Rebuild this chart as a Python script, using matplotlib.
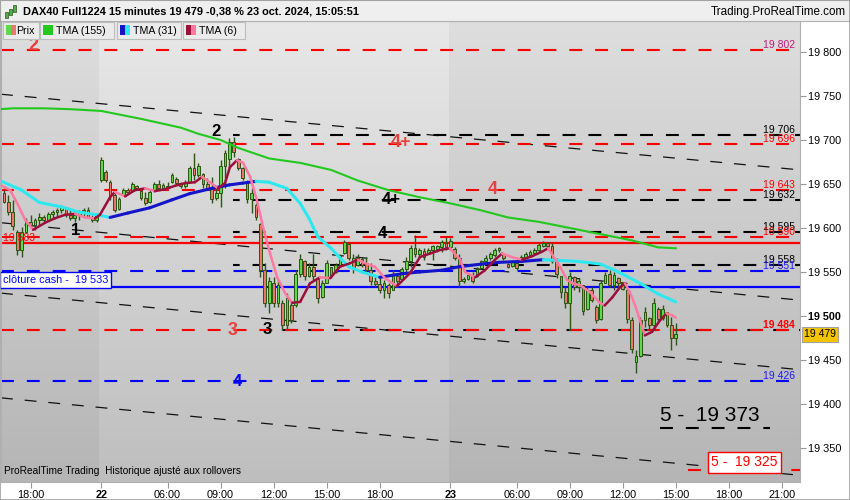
import numpy as np
import matplotlib
matplotlib.use("Agg")
import matplotlib.pyplot as plt
from matplotlib.patches import Rectangle
from matplotlib.collections import LineCollection
import matplotlib.transforms as mtransforms

plt.rcParams['font.family'] = ['Liberation Sans', 'DejaVu Sans']

# ---------------- data ----------------
opens = [19640, 19630, 19618, 19595, 19575, 19596, 19607, 19603, 19609, 19613,
         19609, 19616, 19618, 19621, 19624, 19615, 19611, 19615, 19618, 19621,
         19613, 19609, 19655, 19664, 19652, 19637, 19622, 19638, 19643, 19642,
         19648, 19642, 19634, 19630, 19643, 19650, 19645, 19648, 19652, 19656,
         19651, 19648, 19652, 19668, 19660, 19661, 19650, 19645, 19634, 19640,
         19670, 19678, 19698, 19678, 19668, 19652, 19633, 19626, 19604, 19552,
         19515, 19538, 19515, 19515, 19490, 19512, 19512, 19548, 19562, 19546,
         19556, 19542, 19522, 19538, 19556, 19550, 19558, 19572, 19582, 19566,
         19558, 19565, 19560, 19552, 19540, 19536, 19530, 19535, 19530, 19546,
         19542, 19553, 19563, 19577, 19570, 19574, 19572, 19575, 19576, 19578,
         19583, 19578, 19576, 19566, 19540, 19542, 19546, 19545, 19555, 19562,
         19566, 19569, 19575, 19570, 19559, 19557, 19560, 19562, 19567, 19569,
         19572, 19575, 19580, 19583, 19580, 19563, 19546, 19527, 19515, 19544,
         19533, 19535, 19508, 19530, 19510, 19497, 19538, 19548, 19535, 19543,
         19537, 19530, 19496, 19448, 19455, 19495, 19498, 19490, 19508, 19498,
         19504, 19490, 19475]
highs = [19643, 19637, 19632, 19598, 19601, 19611, 19615, 19611, 19617, 19615,
         19618, 19620, 19623, 19626, 19624, 19620, 19617, 19620, 19623, 19624,
         19615, 19617, 19681, 19666, 19654, 19640, 19635, 19645, 19646, 19652,
         19649, 19643, 19641, 19643, 19652, 19654, 19651, 19652, 19662, 19658,
         19652, 19654, 19671, 19685, 19674, 19662, 19657, 19658, 19646, 19677,
         19689, 19702, 19703, 19679, 19669, 19654, 19646, 19628, 19606, 19560,
         19544, 19544, 19541, 19518, 19526, 19515, 19552, 19571, 19564, 19560,
         19571, 19544, 19541, 19564, 19556, 19560, 19571, 19586, 19584, 19571,
         19571, 19567, 19567, 19560, 19544, 19544, 19541, 19537, 19552, 19549,
         19556, 19567, 19581, 19592, 19577, 19577, 19577, 19581, 19581, 19586,
         19590, 19589, 19578, 19571, 19544, 19549, 19550, 19556, 19564, 19569,
         19573, 19577, 19578, 19571, 19560, 19564, 19561, 19569, 19573, 19575,
         19577, 19583, 19585, 19584, 19583, 19566, 19546, 19533, 19550, 19546,
         19543, 19535, 19533, 19533, 19512, 19541, 19550, 19552, 19550, 19544,
         19538, 19532, 19499, 19461, 19499, 19510, 19499, 19520, 19510, 19512,
         19504, 19499, 19492]
lows = [19628, 19615, 19598, 19569, 19567, 19594, 19600, 19598, 19603, 19607,
        19609, 19611, 19612, 19617, 19612, 19609, 19607, 19609, 19612, 19611,
        19607, 19607, 19652, 19652, 19632, 19618, 19620, 19637, 19640, 19641,
        19643, 19632, 19626, 19628, 19641, 19643, 19643, 19645, 19651, 19649,
        19646, 19646, 19651, 19654, 19658, 19646, 19643, 19628, 19632, 19624,
        19646, 19669, 19681, 19666, 19654, 19628, 19617, 19609, 19544, 19510,
        19503, 19510, 19510, 19484, 19484, 19492, 19510, 19544, 19541, 19544,
        19541, 19515, 19521, 19537, 19543, 19549, 19556, 19571, 19564, 19549,
        19557, 19556, 19549, 19535, 19533, 19526, 19521, 19521, 19529, 19533,
        19541, 19550, 19556, 19567, 19566, 19564, 19571, 19564, 19573, 19573,
        19575, 19575, 19564, 19533, 19537, 19541, 19537, 19544, 19554, 19560,
        19564, 19567, 19573, 19564, 19554, 19556, 19552, 19561, 19566, 19567,
        19569, 19573, 19578, 19577, 19560, 19543, 19521, 19509, 19484, 19529,
        19527, 19501, 19507, 19516, 19492, 19495, 19537, 19533, 19529, 19533,
        19529, 19492, 19458, 19435, 19453, 19487, 19484, 19484, 19492, 19495,
        19487, 19461, 19467]
closes = [19630, 19618, 19602, 19575, 19596, 19607, 19603, 19609, 19613, 19609,
          19616, 19618, 19621, 19624, 19615, 19611, 19615, 19618, 19621, 19613,
          19609, 19615, 19677, 19655, 19637, 19621, 19633, 19643, 19641, 19650,
          19645, 19634, 19628, 19641, 19650, 19645, 19649, 19646, 19660, 19651,
          19648, 19652, 19668, 19660, 19670, 19650, 19645, 19633, 19640, 19670,
          19685, 19698, 19686, 19668, 19657, 19633, 19640, 19612, 19552, 19515,
          19540, 19515, 19535, 19490, 19520, 19495, 19548, 19565, 19545, 19556,
          19545, 19520, 19538, 19560, 19547, 19558, 19569, 19584, 19566, 19555,
          19566, 19558, 19552, 19540, 19536, 19530, 19537, 19526, 19548, 19540,
          19553, 19563, 19577, 19570, 19575, 19567, 19575, 19580, 19579, 19584,
          19578, 19585, 19566, 19540, 19542, 19547, 19540, 19553, 19562, 19566,
          19570, 19575, 19577, 19566, 19556, 19562, 19555, 19567, 19571, 19573,
          19575, 19581, 19583, 19579, 19563, 19548, 19527, 19515, 19545, 19533,
          19540, 19506, 19530, 19518, 19495, 19538, 19547, 19535, 19547, 19537,
          19531, 19497, 19462, 19455, 19495, 19505, 19490, 19515, 19497, 19508,
          19490, 19475, 19479]

tma155_bar = [-1, 2, 9, 15, 22, 31, 40, 44, 49, 53, 60, 67, 74, 80, 87, 94,
              101, 108, 114, 121, 128, 135, 142, 148, 152]
tma155_val = [19735, 19736, 19736, 19735, 19733, 19724, 19714, 19707, 19700,
              19691, 19679, 19674, 19666, 19654, 19643, 19635, 19628, 19620,
              19612, 19607, 19600, 19593, 19586, 19578, 19577]

tma31_bar = [-1, 4, 8, 13, 17, 21, 24, 28, 33, 38, 42, 47, 51, 54, 57, 60, 64,
             67, 69, 71, 74, 76, 78, 81, 83, 85, 90, 94, 99, 103, 108, 112, 117,
             122, 126, 130, 135, 139, 144, 148, 152]
tma31_val = [19654, 19643, 19629, 19624, 19618, 19615, 19612, 19617, 19623,
             19632, 19639, 19645, 19649, 19651, 19653, 19652, 19645, 19628,
             19611, 19590, 19577, 19566, 19556, 19550, 19547, 19544, 19548,
             19550, 19552, 19556, 19559, 19561, 19562, 19564, 19563, 19562,
             19559, 19550, 19537, 19525, 19516]

tma6_bar = [-0.9, 1.4, 3.2, 4.8, 6.6, 9.3, 11.5, 13.8, 16.1, 18.3, 20.6, 21.7,
            24.0, 25.1, 27.4, 29.6, 31.9, 34.2, 36.4, 38.7, 41.0, 43.2, 44.8,
            46.6, 48.4, 50.0, 51.1, 52.7, 54.1, 55.7, 57.2, 58.6, 60.2, 61.8,
            63.6, 65.2, 67.0, 69.2, 71.5, 73.8, 76.0, 78.3, 80.1, 81.7, 83.9,
            86.2, 88.9, 91.9, 94.1, 96.4, 98.6, 100.9, 103.2, 104.3, 106.6,
            108.8, 111.1, 112.7, 114.9, 117.2, 119.5, 121.7, 123.1, 125.8,
            127.4, 128.7, 130.3, 132.6, 134.8, 135.9, 137.6, 139.4, 140.5,
            141.6, 142.8, 143.9, 145.0, 146.6, 148.4, 149.9, 151.1, 152.0]
tma6_val = [19649, 19643, 19626, 19609, 19598, 19606, 19611, 19615, 19616,
            19612, 19611, 19615, 19635, 19641, 19636, 19643, 19645, 19642,
            19644, 19648, 19651, 19652, 19658, 19652, 19645, 19651, 19669,
            19677, 19674, 19658, 19632, 19601, 19571, 19544, 19526, 19515,
            19516, 19537, 19544, 19543, 19556, 19560, 19564, 19560, 19556,
            19543, 19534, 19549, 19567, 19571, 19575, 19577, 19564, 19550,
            19544, 19552, 19564, 19571, 19567, 19564, 19568, 19573, 19577,
            19556, 19541, 19537, 19535, 19527, 19515, 19512, 19521, 19533,
            19537, 19527, 19512, 19495, 19478, 19482, 19495, 19503, 19501,
            19498]

red_dash_levels = [19802, 19696, 19643, 19590, 19484]
black_dash_levels = [19706, 19632, 19595, 19558]
black_dash_low = 19484
blue_dash_levels = [19551, 19426]
red_solid_level = 19583
blue_solid_level = 19533
target_373 = 19373
target_325 = 19325
last_price = 19479

# trend channel lines: (start price, end price) across the visible window
trend_start = [19752, 19606, 19526, 19407]
trend_end = [19666, 19518, 19439, 19319]

right_labels = [("19 802", 19802, '#c0187a', 'normal'),
                ("19 706", 19706, '#000000', 'normal'),
                ("19 696", 19696, '#ff0000', 'normal'),
                ("19 643", 19643, '#ff0000', 'normal'),
                ("19 632", 19632, '#000000', 'normal'),
                ("19 595", 19595, '#000000', 'normal'),
                ("19 590", 19590, '#ff0000', 'normal'),
                ("19 558", 19558, '#000000', 'normal'),
                ("19 551", 19551, '#1a1aff', 'normal'),
                ("19 484", 19484, '#ff0000', 'bold'),
                ("19 426", 19426, '#1a1aff', 'normal')]

tick_bars = [6, 22, 37, 49, 61, 73, 85, 101, 116, 128, 140, 152, 164, 176]
tick_labels = ["18:00", "22", "06:00", "09:00", "12:00", "15:00", "18:00",
               "23", "06:00", "09:00", "12:00", "15:00", "18:00", "21:00"]
ytick_vals = [19350, 19400, 19450, 19500, 19550, 19600, 19650, 19700, 19750, 19800]

# ---------------- figure ----------------
W, H = 850, 500
fig = plt.figure(figsize=(8.5, 5.0), dpi=100, facecolor='white')
ax = fig.add_axes([1 / W, 18 / H, 799 / W, 461 / H])
XMIN, XMAX = -0.68, 180.09
YMIN, YMAX = 19311.4, 19835.2

# background gradient
g = np.linspace(0.91, 0.745, 256).reshape(-1, 1)
ax.imshow(np.dstack([g, g, g]), extent=[XMIN, XMAX, YMIN, YMAX], aspect='auto',
          origin='upper', zorder=0, interpolation='bilinear')
ax.axvspan(XMIN, 21.5, color='black', alpha=0.045, lw=0, zorder=0.5)
ax.axvspan(100.6, XMAX, color='black', alpha=0.045, lw=0, zorder=0.5)

# trend channel lines
for p0, p1 in zip(trend_start, trend_end):
    ax.plot([XMIN, XMAX], [p0, p1], color='#111111', lw=0.9,
            linestyle=(0, (9.5, 9.5)), zorder=1)

dash = (0, (6.2, 6.2))
for lv in black_dash_levels:
    ax.plot([51.8, XMAX], [lv, lv], color='black', lw=1.5, linestyle=(3, (6.2, 6.2)), zorder=2)
ax.plot([59.5, XMAX], [black_dash_low, black_dash_low], color='black', lw=1.5,
        linestyle=(5, (6.2, 6.2)), zorder=2)
for lv in red_dash_levels:
    ax.plot([XMIN, XMAX], [lv, lv], color='#ff0000', lw=1.5, linestyle=dash, zorder=2.1)
for lv in blue_dash_levels:
    ax.plot([XMIN, XMAX], [lv, lv], color='#0000ff', lw=1.5, linestyle=dash, zorder=2.1)
ax.axhline(red_solid_level, color='#ff0000', lw=1.6, zorder=2.2)
ax.axhline(blue_solid_level, color='#0000ff', lw=1.6, zorder=2.2)
ax.plot([148.4, 173.3], [target_373, target_373], color='black', lw=1.5,
        linestyle=(0, (6.2, 6.2)), zorder=2)
ax.plot([154.8, XMAX], [target_325, target_325], color='#ff0000', lw=1.5,
        linestyle=(0, (6.2, 6.2)), zorder=2)

# candles
o = np.array(opens, float); c = np.array(closes, float)
hi = np.array(highs, float); lo = np.array(lows, float)
x = np.arange(len(c))
edge = '#2b5512'
ax.vlines(x, lo, hi, color=edge, lw=1.0, zorder=3)
up = c >= o
body_col = np.where(up, '#5fd84a', '#e8776c')
hgt = np.maximum(np.abs(c - o), 0.6)
ax.bar(x, hgt, bottom=np.minimum(o, c), width=0.62, color=body_col,
       edgecolor=edge, linewidth=0.7, zorder=3.2)

# moving averages
def colored_line(xs, ys, c_up, c_dn, lw, z):
    xs = np.asarray(xs, float); ys = np.asarray(ys, float)
    segs = [[(xs[i], ys[i]), (xs[i + 1], ys[i + 1])] for i in range(len(xs) - 1)]
    cols = [c_up if ys[i + 1] >= ys[i] else c_dn for i in range(len(xs) - 1)]
    lc = LineCollection(segs, colors=cols, linewidths=lw, zorder=z, capstyle='round')
    ax.add_collection(lc)

ax.plot(tma155_bar, tma155_val, color='#22c81e', lw=1.5, zorder=4)
colored_line(tma31_bar, tma31_val, '#1414c8', '#2ee8f0', 2.2, 4.1)
colored_line(tma6_bar, tma6_val, '#9a0f3c', '#ff78a0', 1.8, 4.2)

# annotations on chart
red_txt = '#e8413c'
ax.text(6.6, 19807, "2", color=red_txt, fontsize=13, weight='bold', ha='center', va='center', zorder=6)
ax.text(48, 19710, "2", color='black', fontsize=12, weight='bold', ha='center', va='center', zorder=6)
ax.text(89.8, 19697, "4+", color=red_txt, fontsize=13, weight='bold', ha='center', va='center', zorder=6)
ax.text(110.6, 19644, "4", color=red_txt, fontsize=13, weight='bold', ha='center', va='center', zorder=6)
ax.text(87.6, 19632, "4+", color='black', fontsize=12, weight='bold', ha='center', va='center', zorder=6)
ax.text(85.5, 19594, "4", color='black', fontsize=12, weight='bold', ha='center', va='center', zorder=6)
ax.text(16.3, 19597, "1", color='black', fontsize=12, weight='bold', ha='center', va='center', zorder=6)
ax.text(51.8, 19483, "3", color=red_txt, fontsize=13, weight='bold', ha='center', va='center', zorder=6)
ax.text(59.6, 19485, "3", color='black', fontsize=12, weight='bold', ha='center', va='center', zorder=6)
ax.text(52.7, 19426, "4", color='#0000ff', fontsize=12, weight='bold', ha='center', va='center', zorder=6)
ax.text(159.7, 19387, "5 -  19 373", color='black', fontsize=15, ha='center', va='center', zorder=6)
ax.text(167.5, 19334, "5 -  19 325", color='#ff0000', fontsize=10, ha='center', va='center', zorder=6,
        bbox=dict(boxstyle='square,pad=0.25', fc='white', ec='#ff0000', lw=1.0))
ax.text(-0.2, 19541, "clôture cash -  19 533", color='#0000ff', fontsize=7.8, ha='left', va='center',
        zorder=6, bbox=dict(boxstyle='square,pad=0.25', fc='white', ec='#0000ff', lw=1.0))
ax.text(-0.2, 19583, "19 583", color='#ff0000', fontsize=7.5, ha='left', va='bottom', zorder=6)
for txt, lv, col, wt in right_labels:
    ax.text(179.0, lv, txt, color=col, fontsize=7.5, weight=wt, ha='right', va='bottom', zorder=6)
ax.text(0.004, 0.013, "ProRealTime Trading  Historique ajusté aux rollovers", transform=ax.transAxes,
        fontsize=7.3, color='black', ha='left', va='bottom', zorder=6)

# current price tag
trans = mtransforms.blended_transform_factory(ax.transAxes, ax.transData)
ax.text(1.005, last_price, "19 479", transform=trans, fontsize=7.5, ha='left', va='center',
        zorder=7, clip_on=False,
        bbox=dict(boxstyle='square,pad=0.2', fc='#f5c400', ec='#a0a0a0', lw=0.8))

# axes setup
ax.set_xlim(XMIN, XMAX)
ax.set_ylim(YMIN, YMAX)
ax.yaxis.tick_right()
ax.set_yticks(ytick_vals)
ax.set_yticklabels([f"{v // 1000} {v % 1000:03d}" for v in ytick_vals])
for lab, v in zip(ax.get_yticklabels(), ytick_vals):
    if v == 19500:
        lab.set_fontweight('bold'); lab.set_fontsize(8.5)
ax.tick_params(axis='y', length=4, width=0.8, color='#999999', labelsize=7.8, pad=2)
ax.set_xticks(tick_bars)
ax.set_xticklabels(tick_labels)
for lab, t in zip(ax.get_xticklabels(), tick_labels):
    if t in ("22", "23"):
        lab.set_fontweight('bold'); lab.set_fontsize(8.5)
ax.tick_params(axis='x', length=4, width=0.8, color='#999999', labelsize=7.8, pad=2)
for s in ax.spines.values():
    s.set_color('#b0b0b0'); s.set_linewidth(0.8)

# ---------------- header & legend ----------------
def fx(px): return px / W
def fy(py): return 1 - py / H

fig.patches.append(Rectangle((0, fy(21)), 1, 21 / H, transform=fig.transFigure,
                             fc='#efefef', ec='#b0b0b0', lw=0.8, zorder=5))
for (cx, y0, y1, col) in [(6, 12, 18, '#4caf50'), (10, 9, 15, '#4caf50'), (14, 5, 12, '#4caf50')]:
    fig.patches.append(Rectangle((fx(cx - 1.5), fy(y1)), 3 / W, (y1 - y0) / H,
                                 transform=fig.transFigure, fc=col, ec='#2b5512', lw=0.5, zorder=6))
fig.text(fx(23), fy(11.5), "DAX40 Full1224 15 minutes 19 479 -0,38 % 23 oct. 2024, 15:05:51",
         fontsize=7.9, weight='bold', ha='left', va='center', zorder=7)
fig.text(fx(846), fy(11.5), "Trading.ProRealTime.com", fontsize=8.4, ha='right', va='center', zorder=7)

legend_boxes = [(3, 39, "Prix", ('#5fd84a', '#e8776c')),
                (40, 114, "TMA (155)", ('#22c81e', '#22c81e')),
                (117, 181, "TMA (31)", ('#1414c8', '#2ee8f0')),
                (183, 245, "TMA (6)", ('#9a0f3c', '#ff78a0'))]
for (x0, x1, label, (c1, c2)) in legend_boxes:
    fig.patches.append(Rectangle((fx(x0), fy(39)), (x1 - x0) / W, 17 / H, transform=fig.transFigure,
                                 fc='#ebebeb', ec='#bdbdbd', lw=0.8, zorder=6))
    fig.patches.append(Rectangle((fx(x0 + 3), fy(35)), 5 / W, 10 / H, transform=fig.transFigure,
                                 fc=c1, ec='none', zorder=6.5))
    fig.patches.append(Rectangle((fx(x0 + 8), fy(35)), 5 / W, 10 / H, transform=fig.transFigure,
                                 fc=c2, ec='none', zorder=6.5))
    fig.text(fx(x0 + 16 if label != "Prix" else x0 + 13), fy(30.5), label, fontsize=7.7,
             ha='left', va='center', zorder=7)

fig.patches.append(Rectangle((0, 0), 1, 1, transform=fig.transFigure, fill=False,
                             ec='#a0a0a0', lw=1.2, zorder=8))

fig.savefig("out.png", dpi=100, facecolor='white')
